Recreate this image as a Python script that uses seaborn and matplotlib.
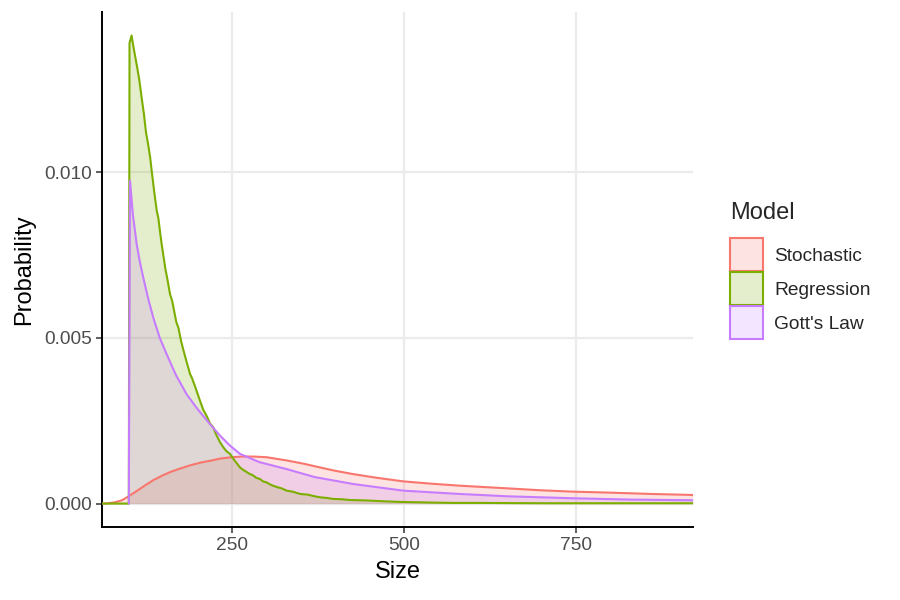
import matplotlib
matplotlib.use("Agg")
import matplotlib.pyplot as plt
from matplotlib.patches import Patch
import seaborn as sns
import pandas as pd
import numpy as np

models = ["Stochastic", "Regression", "Gott's Law"]
colors = ["#F8766D", "#7CAE00", "#C77CFF"]

stoch_x = [61, 70, 80, 90, 99, 110, 123, 135, 148, 160, 172, 190, 205, 220, 233, 250, 265, 281, 300, 330, 355, 378, 400, 426, 460, 499, 540, 581, 650, 700, 746, 800, 860, 920]
stoch_y = [0.0, 0.00001, 0.00004, 0.0001, 0.00021, 0.00036, 0.00054, 0.0007, 0.00084, 0.00095, 0.00104, 0.00116, 0.00124, 0.0013, 0.00136, 0.0014, 0.00142, 0.00142, 0.0014, 0.0013, 0.0012, 0.00109, 0.00099, 0.00089, 0.00078, 0.00067, 0.0006, 0.00054, 0.00046, 0.0004, 0.00036, 0.00033, 0.00029, 0.00026]

reg_x = [61, 100, 101, 104, 107, 111.5, 115, 118.7, 122, 125, 128, 131, 133.3, 137, 140.5, 142.9, 145, 147.8, 150, 153, 156, 159.9, 163, 166, 169, 172, 176, 180, 184, 189, 192, 196, 200, 203.5, 208, 213, 218, 222.8, 227, 232.6, 238, 242, 247, 252, 256, 261.6, 266, 270, 276, 280, 285, 290.7, 295, 300, 307, 315, 322, 329.5, 338, 349, 360, 370, 378, 388, 397, 410, 420, 435, 450, 470, 494, 520, 540, 572, 610, 650, 700, 750, 800, 850, 920]
reg_y = [0.0, 0.0, 0.0139, 0.01413, 0.01375, 0.01324, 0.01282, 0.01224, 0.01175, 0.0112, 0.01085, 0.01045, 0.01003, 0.0094, 0.00885, 0.00862, 0.00826, 0.00782, 0.00752, 0.0071, 0.00678, 0.00632, 0.00612, 0.0058, 0.00548, 0.00531, 0.0049, 0.00458, 0.00428, 0.00391, 0.00378, 0.00355, 0.00331, 0.0031, 0.00284, 0.00265, 0.00242, 0.0023, 0.00208, 0.00185, 0.00168, 0.00158, 0.0015, 0.00135, 0.00124, 0.00109, 0.00102, 0.00097, 0.00089, 0.00086, 0.00078, 0.00074, 0.00067, 0.00064, 0.00056, 0.0005, 0.00046, 0.00039, 0.00036, 0.00029, 0.00027, 0.00022, 0.00019, 0.00017, 0.00014, 0.00013, 0.00011, 0.0001, 0.00009, 0.00007, 0.00005, 0.00004, 0.00003, 0.00002, 0.00002, 0.000015, 0.00001, 0.00001, 0.00001, 0.00001, 0.00001]

gott_x = [100, 101.7, 106, 111.5, 116, 121, 128, 135.6, 145, 155, 168, 184, 200, 218, 232.6, 247, 261.6, 290, 329.5, 370, 426.3, 499, 581, 650, 746, 830, 920]
gott_y = [0.0, 0.00975, 0.0087, 0.00782, 0.0073, 0.00682, 0.0062, 0.00561, 0.005, 0.00451, 0.0039, 0.0033, 0.00285, 0.0024, 0.00205, 0.00175, 0.0015, 0.00125, 0.00104, 0.0008, 0.00059, 0.00039, 0.00029, 0.00022, 0.00016, 0.00012, 0.0001]

xs = [stoch_x, reg_x, gott_x]
ys = [stoch_y, reg_y, gott_y]

df = pd.concat([pd.DataFrame({"Size": x, "Probability": y, "Model": m})
                for x, y, m in zip(xs, ys, models)], ignore_index=True)

sns.set_theme(style="white")
plt.rcParams["font.family"] = ["Liberation Sans", "DejaVu Sans"]

fig = plt.figure(figsize=(9, 6), dpi=100)
ax = fig.add_axes([102/900, 1 - 527/600, (693 - 102)/900, (527 - 12)/600])

for m, c in zip(models, colors):
    sub = df[df["Model"] == m]
    ax.fill_between(sub["Size"], 0, sub["Probability"], color=c, alpha=0.2, linewidth=0, zorder=2)
    sns.lineplot(data=sub, x="Size", y="Probability", color=c, ax=ax,
                 estimator=None, sort=False, linewidth=1.5, zorder=3, legend=False)

ax.set_xlim(61, 920)
ax.set_ylim(-0.000707, 0.01484)
ax.set_xticks([250, 500, 750])
ax.set_xticklabels(["250", "500", "750"])
ax.set_yticks([0.0, 0.005, 0.010])
ax.set_yticklabels(["0.000", "0.005", "0.010"])
ax.grid(True, color="#EBEBEB", linewidth=1.6, zorder=0)
ax.set_axisbelow(True)
for s in ["top", "right"]:
    ax.spines[s].set_visible(False)
for s in ["left", "bottom"]:
    ax.spines[s].set_color("black")
    ax.spines[s].set_linewidth(1.4)
ax.tick_params(axis="both", which="major", length=4, width=1.1, color="#333333",
               labelcolor="#4D4D4D", labelsize=13.8, pad=3, left=True, bottom=True)
ax.set_xlabel("Size", fontsize=17, color="black", labelpad=5)
ax.set_ylabel("Probability", fontsize=17, color="black", labelpad=7)

handles = [Patch(facecolor=matplotlib.colors.to_rgba(c, 0.2), edgecolor=c, linewidth=1.5) for c in colors]
leg = fig.legend(handles, models, title="Model", loc="upper left",
                 bbox_to_anchor=(730/900, 1 - 202/600), frameon=False,
                 fontsize=13.8, title_fontsize=17, handlelength=1.72, handleheight=2.3,
                 labelspacing=0.04, handletextpad=0.6, borderpad=0, borderaxespad=0)
leg._legend_box.align = "left"
leg._legend_box.sep = 10

fig.savefig("out.png", dpi=100)
